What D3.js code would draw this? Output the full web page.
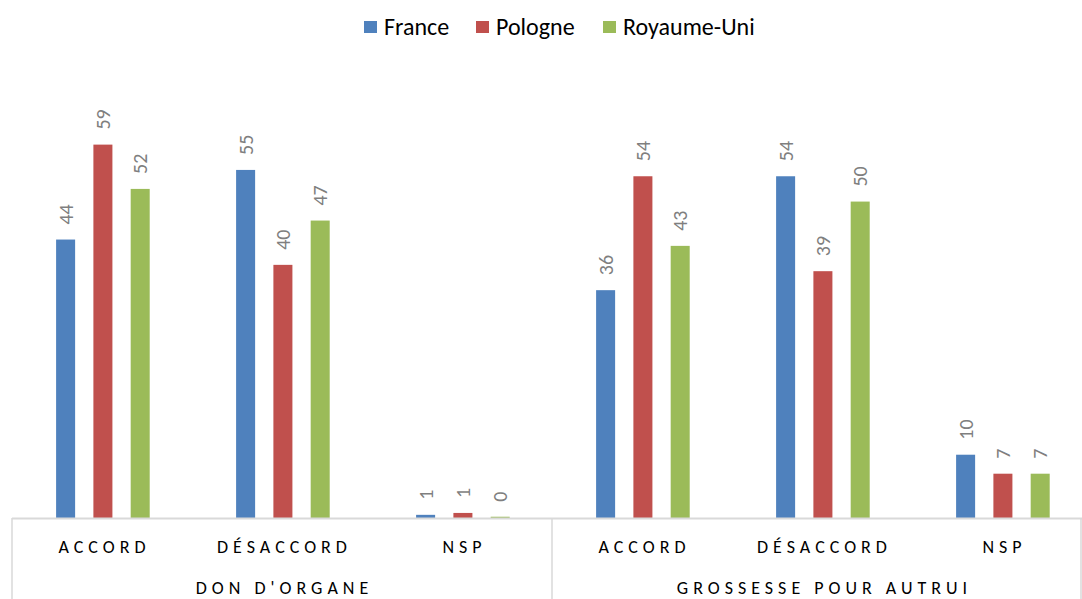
<!DOCTYPE html>
<html>
<head>
<meta charset="utf-8">
<script src="https://cdn.jsdelivr.net/npm/d3@7"></script>
<style>
  body { margin: 0; background: #fff; }
  svg { display: block; font-family: Carlito, Calibri, "Open Sans", sans-serif; }
</style>
</head>
<body>
<script>
// Chart data
var groups = ["DON D'ORGANE", "GROSSESSE POUR AUTRUI"];
var categories = ["ACCORD", "DÉSACCORD", "NSP"];
var seriesNames = ["France", "Pologne", "Royaume-Uni"];
var colors = ["#4F81BD", "#C0504D", "#9BBB59"];

var france = [44, 55, 0.5, 36, 54, 10];
var pologne = [59, 40, 0.8, 54, 39, 7];
var royaumeUni = [52, 47, 0.2, 43, 50, 7];

var svgWidth = 1082;
var svgHeight = 599;

var baseline = 518;
var plotLeft = 12;
var plotRight = 1092;

var svg = d3.select("body")
  .append("svg")
  .attr("width", svgWidth)
  .attr("height", svgHeight);

// one slot per (group, category)
var slots = [];
groups.forEach((g, gi) => categories.forEach((c, ci) => slots.push({ group: g, cat: c, i: gi * categories.length + ci })));

var x0 = d3.scaleBand()
  .domain(slots.map(d => d.i))
  .range([plotLeft, plotRight]);

var x1 = d3.scaleBand()
  .domain(seriesNames)
  .range([x0.bandwidth() * 0.245, x0.bandwidth() * 0.765])
  .paddingInner(0.49)
  .paddingOuter(0);

var y = d3.scaleLinear()
  .domain([0, 70])
  .range([baseline, 75]);

var allSeries = [france, pologne, royaumeUni];

var slotG = svg.selectAll(".slot")
  .data(slots)
  .enter()
  .append("g")
  .attr("class", "slot")
  .attr("transform", d => `translate(${x0(d.i)},0)`);

slotG.selectAll("rect")
  .data(d => seriesNames.map((s, si) => ({ s: s, si: si, v: allSeries[si][d.i] })))
  .enter()
  .append("rect")
  .attr("x", d => x1(d.s))
  .attr("width", x1.bandwidth())
  .attr("y", d => y(d.v))
  .attr("height", d => baseline - y(d.v))
  .attr("fill", d => colors[d.si]);

// value labels, rotated
slotG.selectAll("text.val")
  .data(d => seriesNames.map((s, si) => ({ s: s, si: si, v: allSeries[si][d.i] })))
  .enter()
  .append("text")
  .attr("class", "val")
  .attr("transform", d => `translate(${x1(d.s) + x1.bandwidth() / 2},${y(d.v) - 15}) rotate(-90)`)
  .attr("dy", "0.35em")
  .attr("text-anchor", "start")
  .attr("font-size", "20px")
  .attr("fill", "#7F7F7F")
  .text(d => Math.round(d.v));

// axis line and separators
svg.append("line")
  .attr("x1", plotLeft).attr("x2", svgWidth)
  .attr("y1", baseline + 0.5).attr("y2", baseline + 0.5)
  .attr("stroke", "#D9D9D9").attr("stroke-width", 2);

var sepX = [plotLeft, plotLeft + (plotRight - plotLeft) / 2, svgWidth - 1];
svg.selectAll(".sep")
  .data(sepX)
  .enter()
  .append("line")
  .attr("x1", d => d).attr("x2", d => d)
  .attr("y1", baseline).attr("y2", svgHeight)
  .attr("stroke", "#D9D9D9").attr("stroke-width", 1.5);

// category labels
svg.selectAll(".cat")
  .data(slots)
  .enter()
  .append("text")
  .attr("class", "cat")
  .attr("x", d => x0(d.i) + x0.bandwidth() / 2 + 2.5)
  .attr("y", 553)
  .attr("text-anchor", "middle")
  .attr("font-size", "18px")
  .attr("letter-spacing", "5px")
  .attr("fill", "#000")
  .text(d => d.cat);

// group labels
var groupWidth = (plotRight - plotLeft) / groups.length;
svg.selectAll(".grp")
  .data(groups)
  .enter()
  .append("text")
  .attr("class", "grp")
  .attr("x", (d, i) => plotLeft + groupWidth * i + groupWidth / 2 + 2.5)
  .attr("y", 594)
  .attr("text-anchor", "middle")
  .attr("font-size", "18px")
  .attr("letter-spacing", "5px")
  .attr("fill", "#000")
  .text(d => d);

// legend
var legendX = [364, 476, 603];
var legend = svg.selectAll(".leg")
  .data(seriesNames)
  .enter()
  .append("g")
  .attr("class", "leg")
  .attr("transform", (d, i) => `translate(${legendX[i]},21)`);

legend.append("rect")
  .attr("width", 13).attr("height", 12)
  .attr("fill", (d, i) => colors[i]);

legend.append("text")
  .attr("x", 20)
  .attr("y", 6)
  .attr("dy", "0.35em")
  .attr("font-size", "24px")
  .attr("fill", "#000")
  .text(d => d);
</script>
</body>
</html>
